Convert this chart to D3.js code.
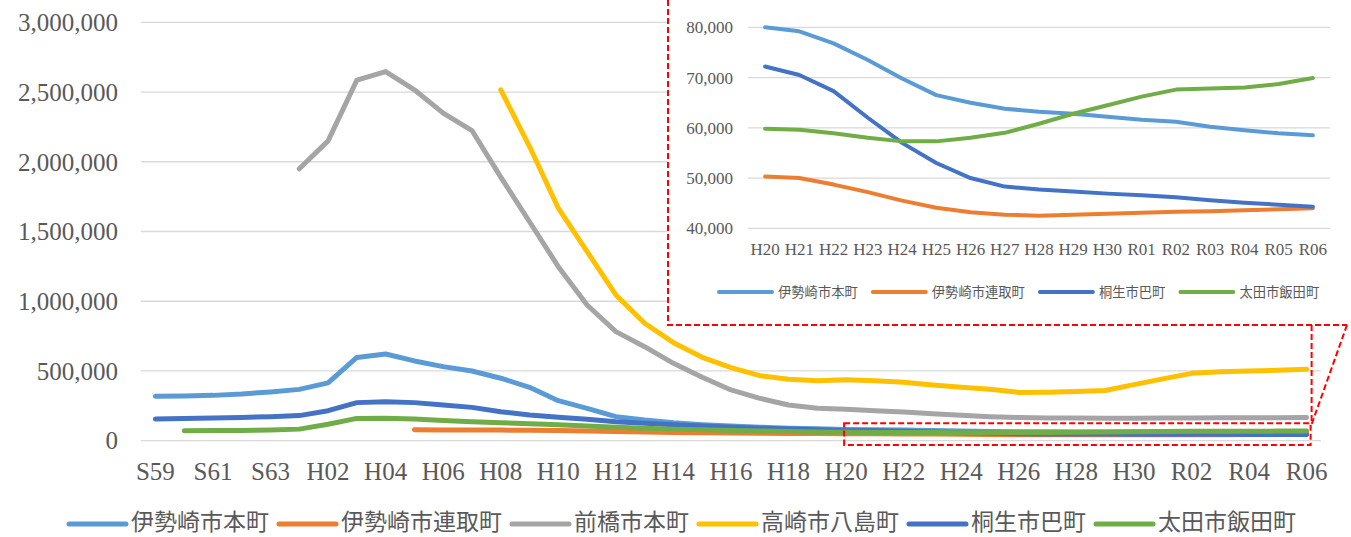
<!DOCTYPE html>
<html>
<head>
<meta charset="utf-8">
<script src="https://cdn.jsdelivr.net/npm/d3@7"></script>
<style>
  body { margin: 0; background: #fff; }
  .tick-label { font-family: "Liberation Serif", "Times New Roman", serif; fill: #595959; }
  .legend-label { font-family: "Noto Sans CJK JP", sans-serif; fill: #595959; }
</style>
</head>
<body>
<svg width="1351" height="537"></svg>
<script>
// years (和暦) S59 .. R06
const categories = ["S59","S60","S61","S62","S63","H01","H02","H03","H04","H05","H06","H07","H08","H09",
  "H10","H11","H12","H13","H14","H15","H16","H17","H18","H19","H20","H21","H22","H23","H24","H25",
  "H26","H27","H28","H29","H30","R01","R02","R03","R04","R05","R06"];

const seriesNames = ["伊勢崎市本町","伊勢崎市連取町","前橋市本町","高崎市八島町","桐生市巴町","太田市飯田町"];
const seriesColors = ["#5B9BD5","#ED7D31","#A5A5A5","#FFC000","#4472C4","#70AD47"];

const isesakiHonmachi = [318000,320000,325000,335000,350000,368000,415000,597000,622000,572000,531000,500000,448000,383000,
  287000,232000,172000,148000,129000,115000,105000,97000,90000,85000,80000,79200,76800,73500,69800,66500,
  65000,63800,63200,62800,62200,61600,61200,60200,59500,58900,58500];
const isesakiRendori = [null,null,null,null,null,null,null,null,null,78000,77000,77000,76000,75000,
  73000,70000,66000,62000,59000,57000,55000,53000,52000,51000,50300,50000,48700,47200,45500,44100,
  43200,42700,42500,42700,42900,43100,43300,43400,43600,43800,44000];
const maebashiHonmachi = [null,null,null,null,null,1950000,2150000,2585000,2647000,2516000,2349000,2224000,1890000,1570000,
  1248000,973000,782000,674000,555000,455000,364000,304000,256000,232000,225000,215000,205000,193000,182000,172000,
  166000,163000,162000,161000,161000,162000,163000,164000,164000,165000,166000];
const takasakiYashima = [null,null,null,null,null,null,null,null,null,null,null,null,2515000,2109000,
  1667000,1356000,1045000,842000,703000,598000,524000,466000,440000,430000,437000,430000,419000,400000,383000,369000,
  346000,348000,352000,360000,402000,443000,483000,495000,500000,505000,512000];
const kiryuTomoe = [155000,160000,163000,167000,172000,180000,215000,273000,279000,273000,256000,239000,208000,184000,
  168000,153000,136000,125000,115000,105000,97000,90000,84000,78000,72200,70500,67300,62000,57000,53000,
  50000,48300,47700,47300,46900,46600,46200,45600,45100,44700,44300];
const otaIida = [null,72000,73000,74000,77000,83000,118000,160000,161000,156000,144000,136000,129000,122000,
  115000,105000,96000,89000,83000,78000,73000,69000,66000,63000,59800,59600,58900,58000,57300,57300,
  58000,59000,60800,62800,64500,66200,67600,67800,68000,68700,69900];

const mainTicks = [0,500000,1000000,1500000,2000000,2500000,3000000];
const insetStart = "H20";
const insetTicks = [40000,50000,60000,70000,80000];
// inset shows series 0,1,4,5
const insetSeries = [0,1,4,5];

const allSeries = [isesakiHonmachi, isesakiRendori, maebashiHonmachi, takasakiYashima, kiryuTomoe, otaIida];

const svg = d3.select("svg");
const fmt = d3.format(",");

// ---------- main chart ----------
const x = d3.scalePoint().domain(categories).range([141, 1321]).padding(0.5);
const y = d3.scaleLinear().domain([0, 3000000]).range([440.7, 22.3]);

const main = svg.append("g");

main.selectAll(".grid")
  .data(mainTicks)
  .enter().append("line")
    .attr("x1", 141).attr("x2", 1321)
    .attr("y1", d => y(d)).attr("y2", d => y(d))
    .attr("stroke", "#D9D9D9").attr("stroke-width", 1.3);

main.selectAll(".ylab")
  .data(mainTicks)
  .enter().append("text")
    .attr("class", "tick-label")
    .attr("x", 118).attr("y", d => y(d))
    .attr("dy", "0.35em")
    .attr("text-anchor", "end")
    .style("font-size", "25px")
    .text(d => fmt(d));

main.selectAll(".xlab")
  .data(categories.filter((d, i) => i % 2 === 0))
  .enter().append("text")
    .attr("class", "tick-label")
    .attr("x", d => x(d)).attr("y", 471)
    .attr("dy", "0.35em")
    .attr("text-anchor", "middle")
    .style("font-size", "25px")
    .text(d => d);

const line = d3.line()
  .defined(d => d.v != null)
  .x(d => x(d.c))
  .y(d => y(d.v));

allSeries.forEach((s, i) => {
  main.append("path")
    .datum(s.map((v, j) => ({c: categories[j], v: v})))
    .attr("fill", "none")
    .attr("stroke", seriesColors[i])
    .attr("stroke-width", 5)
    .attr("stroke-linejoin", "round")
    .attr("stroke-linecap", "round")
    .attr("d", line);
});

// main legend
const legendChar = 23;
let lx = 69;
seriesNames.forEach((name, i) => {
  const g = svg.append("g").attr("transform", "translate(" + lx + ",522)");
  g.append("line")
    .attr("x1", 0).attr("x2", 57).attr("y1", 2).attr("y2", 2)
    .attr("stroke", seriesColors[i]).attr("stroke-width", 5)
    .attr("stroke-linecap", "round");
  g.append("text")
    .attr("class", "legend-label")
    .attr("x", 62).attr("y", 0)
    .attr("dy", "0.36em")
    .style("font-size", legendChar + "px")
    .text(name);
  lx += 57 + 5 + name.length * legendChar + 10;
});

// ---------- inset (H20 - R06) ----------
const startIdx = categories.indexOf(insetStart);
const insetCats = categories.slice(startIdx);

const ix = d3.scalePoint().domain(insetCats).range([748, 1330]).padding(0.5);
const iy = d3.scaleLinear().domain([40000, 80000]).range([228.3, 27.3]);

const inset = svg.append("g");

inset.append("rect")
  .attr("x", 668).attr("y", 0).attr("width", 683).attr("height", 325)
  .attr("fill", "#fff");

inset.selectAll(".igrid")
  .data(insetTicks)
  .enter().append("line")
    .attr("x1", 748).attr("x2", 1330)
    .attr("y1", d => iy(d)).attr("y2", d => iy(d))
    .attr("stroke", "#D9D9D9").attr("stroke-width", 1.3);

inset.selectAll(".iylab")
  .data(insetTicks)
  .enter().append("text")
    .attr("class", "tick-label")
    .attr("x", 733).attr("y", d => iy(d))
    .attr("dy", "0.35em")
    .attr("text-anchor", "end")
    .style("font-size", "17px")
    .text(d => fmt(d));

inset.selectAll(".ixlab")
  .data(insetCats)
  .enter().append("text")
    .attr("class", "tick-label")
    .attr("x", d => ix(d)).attr("y", 249)
    .attr("dy", "0.35em")
    .attr("text-anchor", "middle")
    .style("font-size", "17px")
    .text(d => d);

const iline = d3.line()
  .x(d => ix(d.c))
  .y(d => iy(d.v));

insetSeries.forEach(i => {
  inset.append("path")
    .datum(allSeries[i].slice(startIdx).map((v, j) => ({c: insetCats[j], v: v})))
    .attr("fill", "none")
    .attr("stroke", seriesColors[i])
    .attr("stroke-width", 4)
    .attr("stroke-linejoin", "round")
    .attr("stroke-linecap", "round")
    .attr("d", iline);
});

// inset legend
const iChar = 13.3;
let ilx = 719;
insetSeries.forEach(i => {
  const name = seriesNames[i];
  const g = inset.append("g").attr("transform", "translate(" + ilx + ",292)");
  g.append("line")
    .attr("x1", 0).attr("x2", 53).attr("y1", 0).attr("y2", 0)
    .attr("stroke", seriesColors[i]).attr("stroke-width", 4)
    .attr("stroke-linecap", "round");
  g.append("text")
    .attr("class", "legend-label")
    .attr("x", 59).attr("y", 0)
    .attr("dy", "0.36em")
    .style("font-size", iChar + "px")
    .text(name);
  ilx += 53 + 6 + name.length * iChar + 15;
});

// ---------- red dashed zoom callout ----------
const boxL = x(insetStart) - 2, boxR = x("R06") + 4;
const boxT = y(126000), boxB = y(-30000);
const red = svg.append("g")
  .attr("fill", "none")
  .attr("stroke", "#FF0000")
  .attr("stroke-width", 2)
  .attr("stroke-dasharray", "6,3");

red.append("path").attr("d", "M668,0V325H1347");
red.append("rect")
  .attr("x", boxL).attr("y", boxT)
  .attr("width", boxR - boxL).attr("height", boxB - boxT);
red.append("path").attr("d", "M" + (boxR + 1) + ",325V" + boxT);
red.append("path").attr("d", "M1347,325L" + boxR + "," + (boxT + 4));
</script>
</body>
</html>
